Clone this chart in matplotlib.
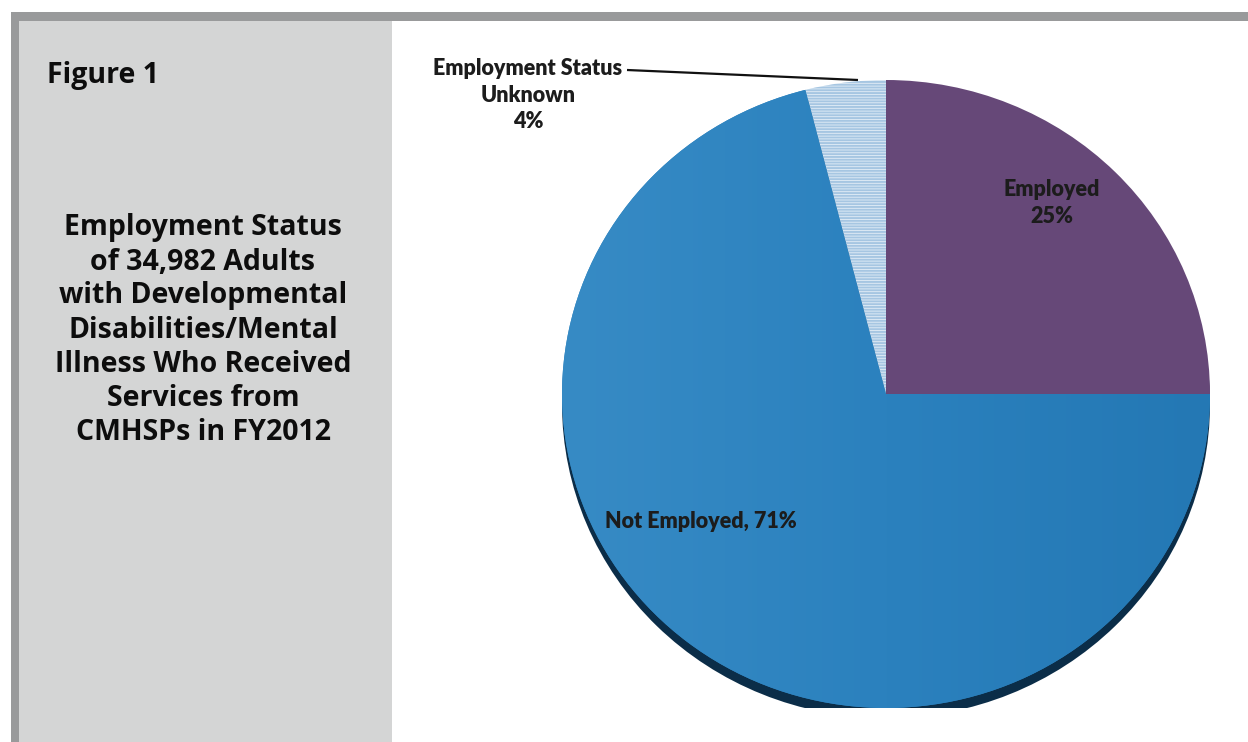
import numpy as np
import matplotlib
matplotlib.use("Agg")
import matplotlib.pyplot as plt
from matplotlib.patches import Rectangle, Ellipse
from matplotlib.colors import LinearSegmentedColormap

# Data
categories = ["Employed", "Not Employed", "Employment Status\nUnknown"]
shares = [25, 71, 4]
title_lines = ["Employment Status", "of 34,982 Adults", "with Developmental",
               "Disabilities/Mental", "Illness Who Received", "Services from",
               "CMHSPs in FY2012"]

W, H = 1248, 742
fig = plt.figure(figsize=(W / 100, H / 100), dpi=100)
fig.patch.set_facecolor("white")

# Background frame in pixel coordinates
bg = fig.add_axes([0, 0, 1, 1])
bg.set_xlim(0, W)
bg.set_ylim(H, 0)
bg.axis("off")
bg.add_patch(Rectangle((11, 12), W - 11, 9, color="#999a9b", lw=0))
bg.add_patch(Rectangle((11, 12), 8, H - 12, color="#999a9b", lw=0))
bg.add_patch(Rectangle((19, 21), 373, H - 21, color="#d4d5d5", lw=0))

side_font = "Open Sans"
bg.text(47, 75, "Figure 1", ha="left", va="center", fontsize=20.5,
        fontweight="bold", family=side_font, color="#0d0d0d")
for i, line in enumerate(title_lines):
    bg.text(203, 228 + 34 * i, line, ha="center", va="center", fontsize=20.5,
            fontweight="bold", family=side_font, color="#0d0d0d")

# Pie drawn in an axes stretched to the ellipse footprint
px0, py0, px1, py1 = 562, 80, 1210, 708
pax = fig.add_axes([px0 / W, 1 - py1 / H, (px1 - px0) / W, (py1 - py0) / H])

plt.rcParams["hatch.linewidth"] = 1.4
colors = ["#664878", "#2f83bf", "#e4eef7"]
wedges, _ = pax.pie(shares, startangle=90, counterclock=False, colors=colors,
                    radius=1.0, center=(0, 0), frame=True,
                    wedgeprops=dict(linewidth=0))
pax.set_xlim(-1, 1)
pax.set_ylim(-1, 1)
pax.set_aspect("auto")
pax.axis("off")
for w in wedges:
    w.set_zorder(2)

# Drop shadow under the pie
pax.add_patch(Ellipse((0, -0.032), 2.0, 2.0, color="#0b2d48", lw=0, zorder=0))

# Horizontal stripes on the unknown-status slice
wedges[2].set_hatch("------")
wedges[2].set_edgecolor("#a6c6e2")
wedges[2].set_linewidth(0)

# Soft left-to-right shading on the large blue slice
blue_cmap = LinearSegmentedColormap.from_list("blue_shade", ["#378bc5", "#2b81be", "#2478b4"])
grad = np.tile(np.linspace(0, 1, 256), (16, 1))
im = pax.imshow(grad, cmap=blue_cmap, extent=(-1, 1, -1, 1), aspect="auto",
                zorder=2.5, interpolation="bicubic")
im.set_clip_path(wedges[1])
pax.set_xlim(-1, 1)
pax.set_ylim(-1, 1)

# Overlay for slice labels
top = fig.add_axes([0, 0, 1, 1], zorder=10)
top.set_xlim(0, W)
top.set_ylim(H, 0)
top.axis("off")
top.patch.set_alpha(0)

label_kw = dict(family="Lato", fontweight="heavy", fontsize=15.5, color="#1c1c1c",
                ha="center", va="center", linespacing=1.3)
top.text(1052, 203, f"{categories[0]}\n{shares[0]}%", **label_kw)
top.text(701, 522, f"{categories[1]}, {shares[1]}%", **label_kw)
top.text(528, 95, f"{categories[2]}\n{shares[2]}%", **label_kw)
top.plot([627, 858], [70, 80], color="#111111", lw=1.6, solid_capstyle="butt")

fig.savefig("out.png", dpi=100, facecolor=fig.get_facecolor())
